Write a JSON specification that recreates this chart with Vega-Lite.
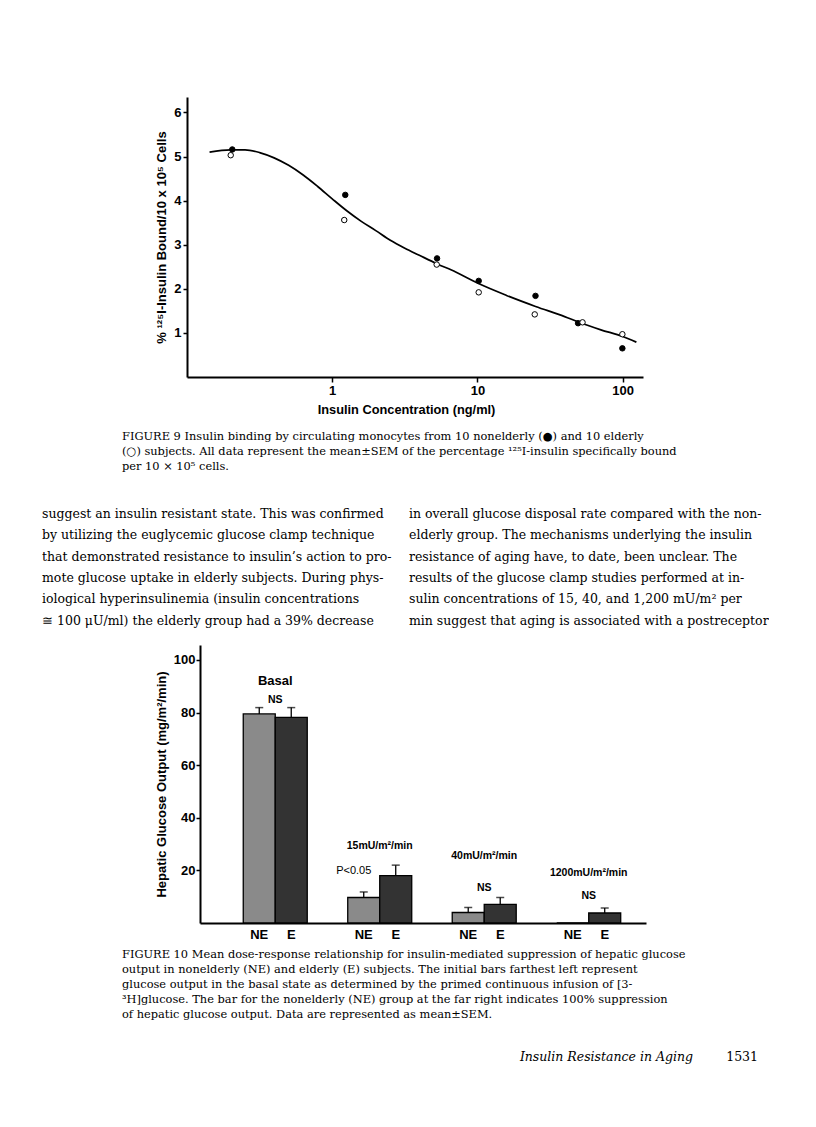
{
  "$schema": "https://vega.github.io/schema/vega-lite/v6.json",
  "background": "white",
  "padding": {"left": 42, "top": 97, "right": 0, "bottom": 0},
  "bounds": "flush",
  "spacing": 0,
  "resolve": {"scale": {"fill": "independent"}},
  "config": {
    "view": {"stroke": null},
    "axis": {"grid": false, "domainColor": "black", "tickColor": "black", "labelColor": "black", "titleColor": "black", "labelFont": "Liberation Sans", "titleFont": "Liberation Sans"}
  },
  "vconcat": [
    {
      "width": 443,
      "height": 280,
      "encoding": {
        "x": {"field": "conc", "type": "quantitative", "title": "Insulin Concentration (ng/ml)",
          "scale": {"type": "log", "domain": [0.1, 138], "range": [-13, 443], "nice": false},
          "axis": {"values": [1, 10, 100], "format": "~g", "domainWidth": 2, "tickWidth": 1.5, "tickSize": 5, "labelFontSize": 13, "labelFontWeight": "bold", "labelPadding": 2, "labelFlush": false, "titleFontSize": 12.8, "titleFontWeight": "bold", "titlePadding": 6, "titleX": 206}},
        "y": {"field": "val", "type": "quantitative", "title": "% ¹²⁵I-Insulin Bound/10 x 10⁵ Cells",
          "scale": {"domain": [0, 6.35], "nice": false},
          "axis": {"values": [1, 2, 3, 4, 5, 6], "offset": 13, "domainWidth": 2, "tickWidth": 1.5, "tickSize": 4, "labelFontSize": 13, "labelFontWeight": "bold", "labelPadding": 2, "titleFontSize": 13, "titleFontWeight": "bold", "titlePadding": 5}}
      },
      "layer": [
        {
          "data": {"values": [
            {"conc": 0.143, "val": 5.10}, {"conc": 0.1995, "val": 5.15}, {"conc": 0.251, "val": 5.15},
            {"conc": 0.316, "val": 5.09}, {"conc": 0.398, "val": 4.97}, {"conc": 0.501, "val": 4.80},
            {"conc": 0.631, "val": 4.58}, {"conc": 0.794, "val": 4.32}, {"conc": 1.0, "val": 4.04},
            {"conc": 1.259, "val": 3.77}, {"conc": 1.585, "val": 3.53}, {"conc": 1.995, "val": 3.32},
            {"conc": 2.512, "val": 3.10}, {"conc": 3.162, "val": 2.92}, {"conc": 3.981, "val": 2.76},
            {"conc": 5.248, "val": 2.57}, {"conc": 7.079, "val": 2.38}, {"conc": 10, "val": 2.13},
            {"conc": 15.85, "val": 1.85}, {"conc": 25.12, "val": 1.60}, {"conc": 39.81, "val": 1.37},
            {"conc": 50.12, "val": 1.24}, {"conc": 70.79, "val": 1.07}, {"conc": 100, "val": 0.92},
            {"conc": 124.2, "val": 0.79}
          ]},
          "mark": {"type": "line", "interpolate": "monotone", "color": "black", "strokeWidth": 1.7}
        },
        {
          "data": {"values": [
            {"group": "nonelderly", "conc": 0.205, "val": 5.16},
            {"group": "nonelderly", "conc": 1.23, "val": 4.13},
            {"group": "nonelderly", "conc": 5.27, "val": 2.69},
            {"group": "nonelderly", "conc": 10.2, "val": 2.18},
            {"group": "nonelderly", "conc": 25.1, "val": 1.84},
            {"group": "nonelderly", "conc": 49.3, "val": 1.22},
            {"group": "nonelderly", "conc": 99.5, "val": 0.65},
            {"group": "elderly", "conc": 0.2, "val": 5.03},
            {"group": "elderly", "conc": 1.21, "val": 3.56},
            {"group": "elderly", "conc": 5.24, "val": 2.55},
            {"group": "elderly", "conc": 10.2, "val": 1.92},
            {"group": "elderly", "conc": 24.8, "val": 1.42},
            {"group": "elderly", "conc": 52.9, "val": 1.24},
            {"group": "elderly", "conc": 99.5, "val": 0.97}
          ]},
          "mark": {"type": "point", "shape": "circle", "filled": true, "size": 30, "stroke": "black", "strokeWidth": 1, "opacity": 1},
          "encoding": {
            "fill": {"field": "group", "type": "nominal", "scale": {"domain": ["nonelderly", "elderly"], "range": ["black", "white"]}, "legend": null}
          }
        }
      ]
    },
    {
      "width": 446,
      "height": 100,
      "data": {"values": [
        {"col": 0, "line": 1, "t": "FIGURE 9  Insulin binding by circulating monocytes from 10 nonelderly (●) and 10 elderly"},
        {"col": 0, "line": 2, "t": "(○) subjects. All data represent the mean±SEM of the percentage ¹²⁵I-insulin specifically bound"},
        {"col": 0, "line": 3, "t": "per 10 × 10⁵ cells."}
      ]},
      "mark": {"type": "text", "align": "left", "baseline": "middle", "font": "DejaVu Serif", "fontSize": 11.4, "color": "black"},
      "encoding": {
        "x": {"field": "col", "type": "quantitative", "scale": {"domain": [0.1749, 1.1749], "zero": false, "nice": false}, "axis": null},
        "y": {"field": "line", "type": "quantitative", "scale": {"domain": [-3, 3.667], "reverse": true, "zero": false, "nice": false}, "axis": null},
        "text": {"field": "t"}
      }
    },
    {
      "width": 446,
      "height": 168,
      "data": {"values": [
        {"col": 0, "line": 1, "t": "suggest an insulin resistant state. This was confirmed"},
        {"col": 0, "line": 2, "t": "by utilizing the euglycemic glucose clamp technique"},
        {"col": 0, "line": 3, "t": "that demonstrated resistance to insulin’s action to pro-"},
        {"col": 0, "line": 4, "t": "mote glucose uptake in elderly subjects. During phys-"},
        {"col": 0, "line": 5, "t": "iological hyperinsulinemia (insulin concentrations"},
        {"col": 0, "line": 6, "t": "≅ 100 μU/ml) the elderly group had a 39% decrease"},
        {"col": 1, "line": 1, "t": "in overall glucose disposal rate compared with the non-"},
        {"col": 1, "line": 2, "t": "elderly group. The mechanisms underlying the insulin"},
        {"col": 1, "line": 3, "t": "resistance of aging have, to date, been unclear. The"},
        {"col": 1, "line": 4, "t": "results of the glucose clamp studies performed at in-"},
        {"col": 1, "line": 5, "t": "sulin concentrations of 15, 40, and 1,200 mU/m² per"},
        {"col": 1, "line": 6, "t": "min suggest that aging is associated with a postreceptor"}
      ]},
      "mark": {"type": "text", "align": "left", "baseline": "middle", "font": "DejaVu Serif", "fontSize": 12.5, "color": "black"},
      "encoding": {
        "x": {"field": "col", "type": "quantitative", "scale": {"domain": [0.4305, 1.6458], "zero": false, "nice": false}, "axis": null},
        "y": {"field": "line", "type": "quantitative", "scale": {"domain": [-0.734, 7.141], "reverse": true, "zero": false, "nice": false}, "axis": null},
        "text": {"field": "t"}
      }
    },
    {
      "width": 446,
      "height": 278,
      "data": {"values": [
        {"dose": "Basal", "subj": "NE", "mean": 79.5, "upper": 81.9},
        {"dose": "Basal", "subj": "E", "mean": 78.2, "upper": 81.9},
        {"dose": "15", "subj": "NE", "mean": 9.7, "upper": 11.8},
        {"dose": "15", "subj": "E", "mean": 18.0, "upper": 22.0},
        {"dose": "40", "subj": "NE", "mean": 4.0, "upper": 5.9},
        {"dose": "40", "subj": "E", "mean": 7.1, "upper": 9.7},
        {"dose": "1200", "subj": "NE", "mean": 0, "upper": 0},
        {"dose": "1200", "subj": "E", "mean": 3.8, "upper": 5.7}
      ]},
      "encoding": {
        "x": {"field": "dose", "type": "nominal", "sort": ["Basal", "15", "40", "1200"],
          "scale": {"domain": ["Basal", "15", "40", "1200"], "paddingInner": 0.3876, "paddingOuter": 0.328, "align": 0.631},
          "axis": {"labels": false, "ticks": false, "title": null, "domainWidth": 2}}
      },
      "layer": [
        {
          "mark": {"type": "bar", "stroke": "black", "strokeWidth": 1.3},
          "encoding": {
            "xOffset": {"field": "subj", "type": "nominal", "sort": ["NE", "E"], "scale": {"domain": ["NE", "E"], "paddingInner": 0, "paddingOuter": 0}},
            "y": {"field": "mean", "type": "quantitative", "title": "Hepatic Glucose Output (mg/m²/min)",
              "scale": {"domain": [0, 105.7], "nice": false},
              "axis": {"values": [20, 40, 60, 80, 100], "domainWidth": 2, "tickWidth": 1.5, "tickSize": 4, "labelFontSize": 13, "labelFontWeight": "bold", "labelPadding": 1, "titleFontSize": 13, "titleFontWeight": "bold", "titlePadding": 5}},
            "fill": {"field": "subj", "type": "nominal", "scale": {"domain": ["NE", "E"], "range": ["#8a8a8a", "#333333"]}, "legend": null}
          }
        },
        {
          "transform": [{"filter": "datum.upper > datum.mean"}],
          "mark": {"type": "rule", "color": "black", "strokeWidth": 1.3},
          "encoding": {
            "xOffset": {"field": "subj", "type": "nominal", "sort": ["NE", "E"]},
            "y": {"field": "mean", "type": "quantitative", "title": "Hepatic Glucose Output (mg/m²/min)"},
            "y2": {"field": "upper"}
          }
        },
        {
          "transform": [{"filter": "datum.upper > datum.mean"}],
          "mark": {"type": "tick", "orient": "horizontal", "size": 8, "thickness": 1.5, "color": "black"},
          "encoding": {
            "xOffset": {"field": "subj", "type": "nominal", "sort": ["NE", "E"]},
            "y": {"field": "upper", "type": "quantitative", "title": "Hepatic Glucose Output (mg/m²/min)"}
          }
        },
        {
          "mark": {"type": "text", "dy": 12, "baseline": "middle", "font": "Liberation Sans", "fontSize": 13, "fontWeight": "bold", "color": "black"},
          "encoding": {
            "xOffset": {"field": "subj", "type": "nominal", "sort": ["NE", "E"]},
            "y": {"datum": 0, "type": "quantitative"},
            "text": {"field": "subj"}
          }
        },
        {
          "data": {"values": [
            {"dose": "Basal", "y": 92.0, "label": "Basal"}
          ]},
          "mark": {"type": "text", "baseline": "middle", "font": "Liberation Sans", "fontSize": 13, "fontWeight": "bold", "color": "black"},
          "encoding": {
            "y": {"field": "y", "type": "quantitative", "title": "Hepatic Glucose Output (mg/m²/min)"},
            "text": {"field": "label"}
          }
        },
        {
          "data": {"values": [
            {"dose": "Basal", "y": 84.8, "label": "NS"},
            {"dose": "15", "y": 29.1, "label": "15mU/m²/min"},
            {"dose": "40", "y": 25.6, "label": "40mU/m²/min"},
            {"dose": "40", "y": 13.3, "label": "NS"},
            {"dose": "1200", "y": 19.2, "label": "1200mU/m²/min"},
            {"dose": "1200", "y": 10.1, "label": "NS"}
          ]},
          "mark": {"type": "text", "baseline": "middle", "font": "Liberation Sans", "fontSize": 10.5, "fontWeight": "bold", "color": "black"},
          "encoding": {
            "y": {"field": "y", "type": "quantitative", "title": "Hepatic Glucose Output (mg/m²/min)"},
            "text": {"field": "label"}
          }
        },
        {
          "data": {"values": [
            {"dose": "15", "subj": "NE", "y": 19.6, "label": "P<0.05"}
          ]},
          "mark": {"type": "text", "baseline": "middle", "dx": -10, "font": "Liberation Sans", "fontSize": 11, "color": "black"},
          "encoding": {
            "xOffset": {"field": "subj", "type": "nominal", "sort": ["NE", "E"]},
            "y": {"field": "y", "type": "quantitative", "title": "Hepatic Glucose Output (mg/m²/min)"},
            "text": {"field": "label"}
          }
        }
      ]
    },
    {
      "width": 446,
      "height": 110,
      "data": {"values": [
        {"col": 0, "line": 1, "t": "FIGURE 10  Mean dose-response relationship for insulin-mediated suppression of hepatic glucose"},
        {"col": 0, "line": 2, "t": "output in nonelderly (NE) and elderly (E) subjects. The initial bars farthest left represent"},
        {"col": 0, "line": 3, "t": "glucose output in the basal state as determined by the primed continuous infusion of [3-"},
        {"col": 0, "line": 4, "t": "³H]glucose. The bar for the nonelderly (NE) group at the far right indicates 100% suppression"},
        {"col": 0, "line": 5, "t": "of hepatic glucose output. Data are represented as mean±SEM."}
      ]},
      "mark": {"type": "text", "align": "left", "baseline": "middle", "font": "DejaVu Serif", "fontSize": 11.4, "color": "black"},
      "encoding": {
        "x": {"field": "col", "type": "quantitative", "scale": {"domain": [0.1749, 1.1749], "zero": false, "nice": false}, "axis": null},
        "y": {"field": "line", "type": "quantitative", "scale": {"domain": [-1.133, 6.2], "reverse": true, "zero": false, "nice": false}, "axis": null},
        "text": {"field": "t"}
      }
    },
    {
      "width": 446,
      "height": 48,
      "encoding": {
        "x": {"field": "col", "type": "quantitative", "scale": {"domain": [-5.585, 1.277], "zero": false, "nice": false}, "axis": null},
        "text": {"field": "t"}
      },
      "layer": [
        {
          "data": {"values": [{"col": 2, "t": "Insulin Resistance in Aging"}]},
          "mark": {"type": "text", "align": "right", "baseline": "middle", "font": "DejaVu Serif", "fontStyle": "italic", "fontSize": 12.5, "color": "black"}
        },
        {
          "data": {"values": [{"col": 3, "t": "1531"}]},
          "mark": {"type": "text", "align": "right", "baseline": "middle", "font": "DejaVu Serif", "fontSize": 12.5, "color": "black"}
        }
      ]
    }
  ]
}
